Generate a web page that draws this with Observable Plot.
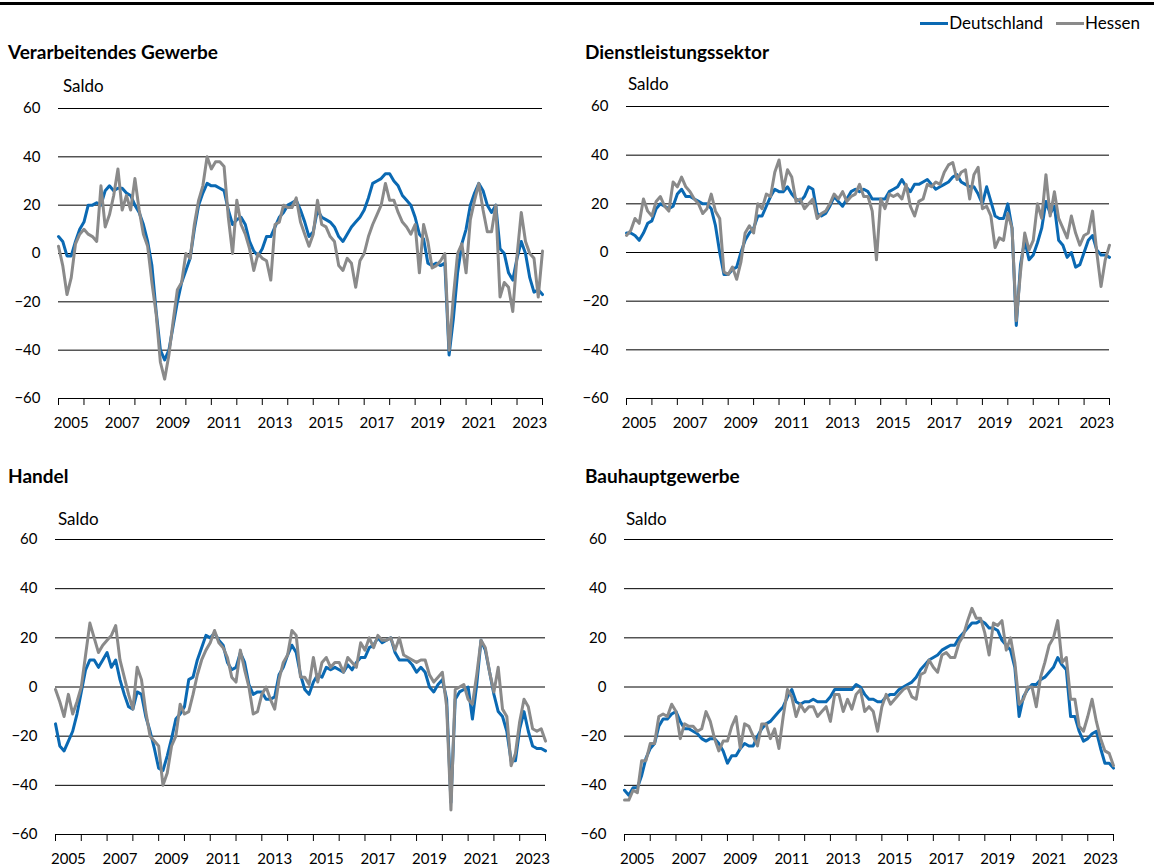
<!DOCTYPE html>
<html>
<head>
<meta charset="utf-8">
<script src="https://cdn.jsdelivr.net/npm/d3@7"></script>
<script src="https://cdn.jsdelivr.net/npm/@observablehq/plot@0.6"></script>
<style>
  html, body { margin: 0; padding: 0; background: #fff; }
  body { font-family: Lato, "Noto Sans", sans-serif; color: #000; }
  #wrap { position: relative; width: 1154px; height: 868px; overflow: hidden; }
  .toprule { position: absolute; left: 0; top: 2px; width: 1154px; height: 3px; background: #000; }
  .title { position: absolute; font-weight: 700; font-size: 19px; line-height: 22px; white-space: nowrap; }
  .saldo { position: absolute; font-size: 17px; line-height: 20px; }
  .panel { position: absolute; }
  .legend { position: absolute; right: 14px; top: 12px; display: flex; align-items: center; font-size: 17px; line-height: 22px; }
  .sw { width: 28px; height: 3px; margin-right: 1px; }
  .legend span.lab { margin-right: 13px; }
  .legend span.lab:last-child { margin-right: 0; }
</style>
</head>
<body>
<div id="wrap">
  <div class="toprule"></div>
  <div class="legend" id="legend"></div>
</div>
<script>
// ---------- data (bimonthly readings, Jan 2005 .. end 2023) ----------
const seriesNames = ["Deutschland", "Hessen"];
const panelTitles = ["Verarbeitendes Gewerbe", "Dienstleistungssektor", "Handel", "Bauhauptgewerbe"];
const unitLabel = "Saldo";
const yTicks = [60, 40, 20, 0, -20, -40, -60];
const xTickYears = [2005,2006,2007,2008,2009,2010,2011,2012,2013,2014,2015,2016,2017,2018,2019,2020,2021,2022,2023,2024];
const xLabelYears = [2005,2007,2009,2011,2013,2015,2017,2019,2021,2023];

// Verarbeitendes Gewerbe
const deVG = [7,5,-1,-1,5,10,13,20,20,21,
  20,26,28,26,27,27,25,24,20,17,
  12,5,-5,-24,-40,-44,-40,-30,-20,-12,
  -7,-2,10,20,25,29,28,28,27,26,
  18,12,14,15,12,5,1,-1,2,7,
  7,11,15,17,20,21,22,18,13,7,
  9,18,15,14,13,11,7,5,8,11,
  13,15,18,23,29,30,31,33,33,30,
  28,24,22,20,15,8,6,-4,-5,-4,
  -5,-4,-42,-27,-8,4,10,20,25,29,
  26,20,17,20,2,0,-8,-11,-2,5,
  0,-10,-16,-15,-17];
const heVG = [3,-5,-17,-10,4,8,10,8,7,5,
  28,11,16,24,35,18,24,18,31,18,
  8,3,-12,-25,-45,-52,-42,-28,-15,-12,
  0,-2,12,22,28,40,35,38,38,36,
  15,0,22,12,8,2,-7,0,-2,-3,
  -11,12,13,20,19,19,23,13,8,3,
  8,22,12,11,7,5,-5,-7,-2,-4,
  -14,-3,0,7,12,16,20,29,22,22,
  17,13,11,8,12,-8,12,5,-6,-5,
  -3,0,-40,-18,0,4,-8,14,22,29,
  18,9,9,20,-18,-12,-14,-24,-1,17,
  5,0,-2,-18,1];

// Dienstleistungssektor
const deDL = [8,8,7,5,8,12,13,18,20,19,
  18,19,24,26,23,23,22,21,20,20,
  18,11,0,-9,-9,-7,-6,0,5,8,
  10,15,15,19,23,26,25,25,27,24,
  22,21,23,27,26,16,15,16,19,23,
  21,19,22,25,26,25,26,25,22,22,
  22,22,25,26,27,30,27,25,28,28,
  29,30,28,26,27,28,29,31,32,29,
  28,27,27,24,20,27,21,15,14,14,
  20,10,-30,-5,5,-3,-1,4,10,21,
  16,19,5,3,-2,0,-6,-5,0,5,
  7,1,-1,-1,-2];
const heDL = [7,9,14,12,22,17,15,21,23,19,
  17,29,27,31,27,25,22,20,16,18,
  24,17,14,-8,-9,-6,-11,-4,8,11,
  8,20,18,24,23,33,38,26,34,31,
  21,22,18,20,22,14,16,17,20,24,
  22,25,21,23,24,28,23,23,17,-3,
  22,18,24,23,24,22,28,19,15,21,
  22,28,27,29,28,33,36,37,30,33,
  34,22,32,35,18,19,15,2,6,5,
  16,10,-28,-8,8,1,5,20,14,32,
  15,25,14,10,6,15,8,3,7,8,
  17,0,-14,-3,3];

// Handel
const deHA = [-15,-24,-26,-22,-18,-11,-2,7,11,11,
  8,11,14,8,11,3,-3,-8,-9,-2,
  -3,-12,-18,-25,-33,-34,-28,-21,-13,-11,
  -8,3,4,11,16,21,20,22,19,17,
  10,7,8,14,10,1,-3,-2,-2,-5,
  -5,-4,5,8,13,17,14,5,-1,-3,
  2,5,4,8,7,8,7,6,9,7,
  10,12,12,16,17,20,18,19,20,14,
  11,11,11,9,6,8,6,0,-2,1,
  3,-5,-47,-5,-2,-1,0,-13,1,19,
  15,6,-3,-10,-12,-18,-30,-30,-17,-10,
  -18,-24,-25,-25,-26];
const heHA = [-1,-6,-12,-3,-11,-6,0,13,26,20,
  14,17,19,21,25,11,4,-3,-9,8,
  3,-10,-20,-22,-24,-40,-35,-24,-20,-7,
  -11,-10,-3,5,11,15,18,23,18,16,
  12,4,2,15,7,0,-11,-10,-3,0,
  -5,-9,3,10,13,23,21,4,4,1,
  12,2,10,12,8,10,10,6,12,10,
  8,18,15,20,16,21,19,19,20,15,
  20,13,12,11,10,11,11,5,2,4,
  6,-8,-50,-1,0,1,-5,-7,5,19,
  16,6,-2,8,-9,-12,-32,-27,-14,-5,
  -8,-17,-18,-17,-22];

// Bauhauptgewerbe
const deBAU = [-42,-44,-41,-41,-36,-29,-25,-23,-16,-13,
  -13,-11,-10,-14,-17,-17,-18,-19,-21,-22,
  -21,-21,-23,-26,-31,-28,-28,-25,-23,-24,
  -24,-20,-17,-15,-14,-12,-10,-8,-4,-1,
  -6,-7,-6,-6,-5,-6,-6,-6,-4,-1,
  -1,-1,-1,-1,1,0,-3,-5,-5,-6,
  -6,-4,-3,-3,-1,0,1,2,4,7,
  9,11,12,13,15,16,17,17,20,22,
  24,26,26,27,26,24,24,23,19,17,
  15,8,-12,-4,-1,1,1,3,4,6,
  8,12,9,7,-12,-12,-18,-22,-21,-19,
  -18,-25,-31,-31,-33];
const heBAU = [-46,-46,-42,-43,-30,-30,-23,-23,-12,-11,
  -12,-7,-10,-21,-15,-16,-16,-18,-17,-10,
  -14,-21,-26,-22,-22,-16,-12,-25,-15,-16,
  -20,-24,-15,-15,-21,-17,-25,-12,-1,-4,
  -12,-7,-10,-8,-8,-12,-10,-8,-14,-3,
  -3,-10,-5,-9,-3,-1,-10,-8,-10,-18,
  -8,-3,-7,-5,-3,-1,0,-4,-5,5,
  6,11,8,6,13,14,12,12,18,21,
  27,32,28,28,22,13,26,25,27,15,
  20,10,-7,-5,0,0,-8,4,10,17,
  20,27,10,12,-5,-5,-16,-18,-12,-5,
  -14,-21,-26,-27,-32];

// ---------- drawing ----------
const BLUE = "#0a69b3";
const GRAY = "#8a8a8a";
const FONT = "Lato, 'Noto Sans', sans-serif";
const times = deVG.map((_, i) => 2005 + i / 6);
const fmt = d => d < 0 ? "\u2212" + Math.abs(d) : String(d);

const panels = [
  {title: panelTitles[0], de: deVG, he: heVG, left: 0, top: 70, w: 577, h: 370, ml: 58, mr: 35, mt: 38, mb: 42, tx: 8, ty: 41, sx: 63, sy: 76},
  {title: panelTitles[1], de: deDL, he: heDL, left: 577, top: 70, w: 577, h: 370, ml: 49, mr: 45, mt: 36, mb: 42, tx: 585, ty: 41, sx: 628, sy: 74},
  {title: panelTitles[2], de: deHA, he: heHA, left: 0, top: 500, w: 577, h: 368, ml: 55, mr: 32, mt: 39, mb: 34, tx: 8, ty: 465, sx: 58, sy: 509},
  {title: panelTitles[3], de: deBAU, he: heBAU, left: 577, top: 500, w: 577, h: 368, ml: 47, mr: 41, mt: 39, mb: 34, tx: 585, ty: 465, sx: 626, sy: 509}
];

const wrap = document.getElementById("wrap");

for (const p of panels) {
  const t = document.createElement("div");
  t.className = "title";
  t.style.left = p.tx + "px";
  t.style.top = p.ty + "px";
  t.textContent = p.title;
  wrap.appendChild(t);

  const s = document.createElement("div");
  s.className = "saldo";
  s.style.left = p.sx + "px";
  s.style.top = p.sy + "px";
  s.textContent = unitLabel;
  wrap.appendChild(s);

  const chart = Plot.plot({
    width: p.w, height: p.h,
    marginLeft: p.ml, marginRight: p.mr, marginTop: p.mt, marginBottom: p.mb,
    x: {type: "linear", domain: [2005, 2024]},
    y: {domain: [-60, 60]},
    style: {fontFamily: FONT, fontSize: "15px", color: "#000", background: "transparent", overflow: "visible"},
    marks: [
      Plot.ruleY(yTicks.filter(v => v > -60), {stroke: "#000", strokeWidth: 1}),
      Plot.axisY({ticks: yTicks, tickSize: 0, tickPadding: 18, tickFormat: fmt, label: null, fontSize: 15}),
      Plot.axisX({ticks: xTickYears, tickSize: 7, tickFormat: () => "", label: null}),
      Plot.axisX({ticks: xLabelYears.map(y => y + 0.5), tickSize: 0, tickPadding: 19, tickFormat: d => String(Math.floor(d)), label: null, fontSize: 15}),
      Plot.ruleY([-60], {stroke: "#000", strokeWidth: 1}),
      Plot.lineY(p.de, {x: (d, i) => times[i], y: d => d, stroke: BLUE, strokeWidth: 3}),
      Plot.lineY(p.he, {x: (d, i) => times[i], y: d => d, stroke: GRAY, strokeWidth: 3})
    ]
  });
  const holder = document.createElement("div");
  holder.className = "panel";
  holder.style.left = p.left + "px";
  holder.style.top = p.top + "px";
  holder.appendChild(chart);
  wrap.appendChild(holder);
}

// legend
const legend = document.getElementById("legend");
[[seriesNames[0], BLUE], [seriesNames[1], GRAY]].forEach(([name, col]) => {
  const sw = document.createElement("div");
  sw.className = "sw";
  sw.style.background = col;
  legend.appendChild(sw);
  const lab = document.createElement("span");
  lab.className = "lab";
  lab.textContent = name;
  legend.appendChild(lab);
});
</script>
</body>
</html>
